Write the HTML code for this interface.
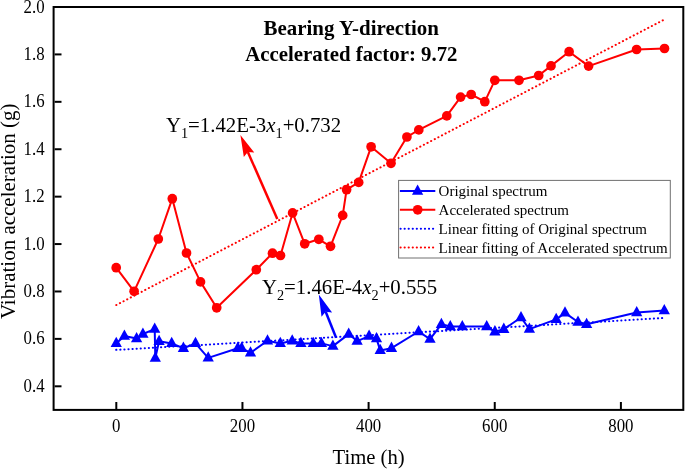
<!DOCTYPE html>
<html><head><meta charset="utf-8"><style>
html,body{margin:0;padding:0;background:#fff;width:685px;height:469px;overflow:hidden;font-family:"Liberation Serif", serif;}
svg{display:block;will-change:transform}
</style></head><body>
<svg width="685" height="469" viewBox="0 0 685 469" font-family='"Liberation Serif", serif'><rect width="685" height="469" fill="#fff"/><line x1="116.27" y1="305.04" x2="663.8" y2="19.8" stroke="#f00" stroke-width="2" stroke-linecap="round" stroke-dasharray="0.2 3.88"/><line x1="116.2" y1="349.87" x2="663.6" y2="318.02" stroke="#00f" stroke-width="2" stroke-linecap="round" stroke-dasharray="0.2 3.88"/><polyline points="116.2,343.4 124.4,336.0 136.6,338.6 142.9,334.0 154.7,329.1 155.3,358.1 159.1,341.3 171.7,343.4 183.4,348.2 195.5,343.4 208.2,357.9 237.8,348.2 241.7,348.2 250.5,352.8 267.5,340.8 280.3,343.4 292.2,340.8 300.9,343.4 313.3,343.4 321.4,343.4 332.9,346.1 348.7,334.1 357.1,341.1 369.1,336.1 376.5,338.6 380.2,350.4 391.5,348.2 418.6,331.5 430.0,339.1 441.4,324.3 450.3,326.5 462.3,326.5 486.7,326.6 494.9,331.7 503.8,329.2 521.0,317.5 529.4,329.1 556.2,319.4 565.0,312.9 578.0,322.0 586.6,324.3 636.7,312.5 664.3,310.5" fill="none" stroke="#00f" stroke-width="2" stroke-linejoin="round"/><polyline points="116.2,267.7 134.1,291.3 158.3,239.0 172.3,198.7 186.5,253.0 200.5,281.9 216.7,307.8 256.3,269.7 272.5,253.2 280.5,255.5 292.6,212.9 304.7,243.8 318.8,239.3 330.5,246.3 342.7,215.4 346.6,189.7 358.7,182.4 371.1,146.8 391.0,163.3 406.9,137.0 418.8,129.9 446.8,115.9 460.6,97.1 471.2,94.5 484.8,101.7 494.8,80.3 519.0,80.3 538.7,75.5 551.0,65.9 569.1,51.7 588.6,66.1 636.6,49.5 664.5,48.5" fill="none" stroke="#f00" stroke-width="2" stroke-linejoin="round"/><g fill="#00f"><polygon points="116.25,336.80 121.90,347.10 110.60,347.10"/><polygon points="124.40,329.40 130.05,339.70 118.75,339.70"/><polygon points="136.60,332.00 142.25,342.30 130.95,342.30"/><polygon points="142.90,327.40 148.55,337.70 137.25,337.70"/><polygon points="154.70,322.50 160.35,332.80 149.05,332.80"/><polygon points="155.30,351.50 160.95,361.80 149.65,361.80"/><polygon points="159.10,334.70 164.75,345.00 153.45,345.00"/><polygon points="171.70,336.80 177.35,347.10 166.05,347.10"/><polygon points="183.40,341.60 189.05,351.90 177.75,351.90"/><polygon points="195.50,336.80 201.15,347.10 189.85,347.10"/><polygon points="208.20,351.30 213.85,361.60 202.55,361.60"/><polygon points="237.80,341.60 243.45,351.90 232.15,351.90"/><polygon points="241.70,341.60 247.35,351.90 236.05,351.90"/><polygon points="250.50,346.20 256.15,356.50 244.85,356.50"/><polygon points="267.50,334.20 273.15,344.50 261.85,344.50"/><polygon points="280.30,336.80 285.95,347.10 274.65,347.10"/><polygon points="292.20,334.20 297.85,344.50 286.55,344.50"/><polygon points="300.90,336.80 306.55,347.10 295.25,347.10"/><polygon points="313.30,336.80 318.95,347.10 307.65,347.10"/><polygon points="321.40,336.80 327.05,347.10 315.75,347.10"/><polygon points="332.90,339.50 338.55,349.80 327.25,349.80"/><polygon points="348.70,327.50 354.35,337.80 343.05,337.80"/><polygon points="357.10,334.50 362.75,344.80 351.45,344.80"/><polygon points="369.10,329.50 374.75,339.80 363.45,339.80"/><polygon points="376.50,332.00 382.15,342.30 370.85,342.30"/><polygon points="380.20,343.80 385.85,354.10 374.55,354.10"/><polygon points="391.50,341.60 397.15,351.90 385.85,351.90"/><polygon points="418.60,324.90 424.25,335.20 412.95,335.20"/><polygon points="430.00,332.50 435.65,342.80 424.35,342.80"/><polygon points="441.40,317.70 447.05,328.00 435.75,328.00"/><polygon points="450.30,319.90 455.95,330.20 444.65,330.20"/><polygon points="462.30,319.90 467.95,330.20 456.65,330.20"/><polygon points="486.70,320.00 492.35,330.30 481.05,330.30"/><polygon points="494.90,325.10 500.55,335.40 489.25,335.40"/><polygon points="503.80,322.60 509.45,332.90 498.15,332.90"/><polygon points="521.00,310.90 526.65,321.20 515.35,321.20"/><polygon points="529.40,322.50 535.05,332.80 523.75,332.80"/><polygon points="556.20,312.80 561.85,323.10 550.55,323.10"/><polygon points="565.00,306.30 570.65,316.60 559.35,316.60"/><polygon points="578.00,315.40 583.65,325.70 572.35,325.70"/><polygon points="586.60,317.70 592.25,328.00 580.95,328.00"/><polygon points="636.70,305.90 642.35,316.20 631.05,316.20"/><polygon points="664.30,303.90 669.95,314.20 658.65,314.20"/></g><g fill="#f00"><circle cx="116.2" cy="267.7" r="4.85"/><circle cx="134.1" cy="291.3" r="4.85"/><circle cx="158.3" cy="239.0" r="4.85"/><circle cx="172.3" cy="198.7" r="4.85"/><circle cx="186.5" cy="253.0" r="4.85"/><circle cx="200.5" cy="281.9" r="4.85"/><circle cx="216.7" cy="307.8" r="4.85"/><circle cx="256.3" cy="269.7" r="4.85"/><circle cx="272.5" cy="253.2" r="4.85"/><circle cx="280.5" cy="255.5" r="4.85"/><circle cx="292.6" cy="212.9" r="4.85"/><circle cx="304.7" cy="243.8" r="4.85"/><circle cx="318.8" cy="239.3" r="4.85"/><circle cx="330.5" cy="246.3" r="4.85"/><circle cx="342.7" cy="215.4" r="4.85"/><circle cx="346.6" cy="189.7" r="4.85"/><circle cx="358.7" cy="182.4" r="4.85"/><circle cx="371.1" cy="146.8" r="4.85"/><circle cx="391.0" cy="163.3" r="4.85"/><circle cx="406.9" cy="137.0" r="4.85"/><circle cx="418.8" cy="129.9" r="4.85"/><circle cx="446.8" cy="115.9" r="4.85"/><circle cx="460.6" cy="97.1" r="4.85"/><circle cx="471.2" cy="94.5" r="4.85"/><circle cx="484.8" cy="101.7" r="4.85"/><circle cx="494.8" cy="80.3" r="4.85"/><circle cx="519.0" cy="80.3" r="4.85"/><circle cx="538.7" cy="75.5" r="4.85"/><circle cx="551.0" cy="65.9" r="4.85"/><circle cx="569.1" cy="51.7" r="4.85"/><circle cx="588.6" cy="66.1" r="4.85"/><circle cx="636.6" cy="49.5" r="4.85"/><circle cx="664.5" cy="48.5" r="4.85"/></g><rect x="53.6" y="7.0" width="629.7" height="402.9" fill="none" stroke="#000" stroke-width="2"/><line x1="54.6" y1="54.41" x2="61.5" y2="54.41" stroke="#000" stroke-width="2"/><line x1="54.6" y1="101.82" x2="61.5" y2="101.82" stroke="#000" stroke-width="2"/><line x1="54.6" y1="149.24" x2="61.5" y2="149.24" stroke="#000" stroke-width="2"/><line x1="54.6" y1="196.65" x2="61.5" y2="196.65" stroke="#000" stroke-width="2"/><line x1="54.6" y1="244.06" x2="61.5" y2="244.06" stroke="#000" stroke-width="2"/><line x1="54.6" y1="291.47" x2="61.5" y2="291.47" stroke="#000" stroke-width="2"/><line x1="54.6" y1="338.88" x2="61.5" y2="338.88" stroke="#000" stroke-width="2"/><line x1="54.6" y1="386.30" x2="61.5" y2="386.30" stroke="#000" stroke-width="2"/><line x1="116.30" y1="402" x2="116.30" y2="409" stroke="#000" stroke-width="2"/><line x1="242.45" y1="402" x2="242.45" y2="409" stroke="#000" stroke-width="2"/><line x1="368.60" y1="402" x2="368.60" y2="409" stroke="#000" stroke-width="2"/><line x1="494.75" y1="402" x2="494.75" y2="409" stroke="#000" stroke-width="2"/><line x1="620.90" y1="402" x2="620.90" y2="409" stroke="#000" stroke-width="2"/><text transform="translate(44.6,12.60) scale(0.92,1)" text-anchor="end" font-size="18.3">2.0</text><text transform="translate(44.6,60.01) scale(0.92,1)" text-anchor="end" font-size="18.3">1.8</text><text transform="translate(44.6,107.42) scale(0.92,1)" text-anchor="end" font-size="18.3">1.6</text><text transform="translate(44.6,154.84) scale(0.92,1)" text-anchor="end" font-size="18.3">1.4</text><text transform="translate(44.6,202.25) scale(0.92,1)" text-anchor="end" font-size="18.3">1.2</text><text transform="translate(44.6,249.66) scale(0.92,1)" text-anchor="end" font-size="18.3">1.0</text><text transform="translate(44.6,297.07) scale(0.92,1)" text-anchor="end" font-size="18.3">0.8</text><text transform="translate(44.6,344.48) scale(0.92,1)" text-anchor="end" font-size="18.3">0.6</text><text transform="translate(44.6,391.90) scale(0.92,1)" text-anchor="end" font-size="18.3">0.4</text><text transform="translate(116.30,432.4) scale(0.92,1)" text-anchor="middle" font-size="18.3">0</text><text transform="translate(242.45,432.4) scale(0.92,1)" text-anchor="middle" font-size="18.3">200</text><text transform="translate(368.60,432.4) scale(0.92,1)" text-anchor="middle" font-size="18.3">400</text><text transform="translate(494.75,432.4) scale(0.92,1)" text-anchor="middle" font-size="18.3">600</text><text transform="translate(620.90,432.4) scale(0.92,1)" text-anchor="middle" font-size="18.3">800</text><text x="368.6" y="463.6" text-anchor="middle" font-size="20.7">Time (h)</text><text transform="translate(15.0,211.25) rotate(-90)" text-anchor="middle" font-size="21.0">Vibration acceleration (g)</text><text transform="translate(351.2,34.6) scale(0.96,1)" text-anchor="middle" font-size="21.8" font-weight="bold">Bearing Y-direction</text><text transform="translate(351.4,60.6) scale(0.96,1)" text-anchor="middle" font-size="21.7" font-weight="bold">Accelerated factor: 9.72</text><text x="165.9" y="131.9" font-size="20.8">Y<tspan font-size="14.3" dy="6">1</tspan><tspan dy="-6">=1.42E-3</tspan><tspan font-style="italic">x</tspan><tspan font-size="14.3" dy="6">1</tspan><tspan dy="-6">+0.732</tspan></text><text x="261.9" y="294.1" font-size="20.8">Y<tspan font-size="14.3" dy="6">2</tspan><tspan dy="-6">=1.46E-4</tspan><tspan font-style="italic">x</tspan><tspan font-size="14.3" dy="6">2</tspan><tspan dy="-6">+0.555</tspan></text><line x1="277.3" y1="219.0" x2="247.84" y2="151.94" stroke="#f00" stroke-width="2.5"/><polygon fill="#f00" points="240.4,135.0 254.27,152.39 247.84,151.94 243.83,156.98"/><line x1="336.1" y1="337.7" x2="325.69" y2="311.77" stroke="#00f" stroke-width="2.5"/><polygon fill="#00f" points="318.8,294.6 332.10,312.43 325.69,311.77 321.52,316.68"/><rect x="398.6" y="180.4" width="271.7" height="77.6" fill="#fff" stroke="#707070" stroke-width="1"/><line x1="399.9" y1="190.9" x2="435.3" y2="190.9" stroke="#00f" stroke-width="2"/><g fill="#00f"><polygon points="417.60,184.50 423.25,194.80 411.95,194.80"/></g><line x1="399.9" y1="209.8" x2="435.3" y2="209.8" stroke="#f00" stroke-width="2"/><circle cx="417.7" cy="209.8" r="4.85" fill="#f00"/><line x1="400.5" y1="228.8" x2="433.5" y2="228.8" stroke="#00f" stroke-width="2" stroke-linecap="round" stroke-dasharray="0.2 3.86"/><line x1="400.5" y1="247.6" x2="433.5" y2="247.6" stroke="#f00" stroke-width="2" stroke-linecap="round" stroke-dasharray="0.2 3.86"/><text x="438.6" y="196.1" font-size="15">Original spectrum</text><text x="438.6" y="215.0" font-size="15">Accelerated spectrum</text><text x="438.6" y="234.0" font-size="15">Linear fitting of Original spectrum</text><text x="438.6" y="252.8" font-size="15">Linear fitting of Accelerated spectrum</text></svg>
</body></html>
